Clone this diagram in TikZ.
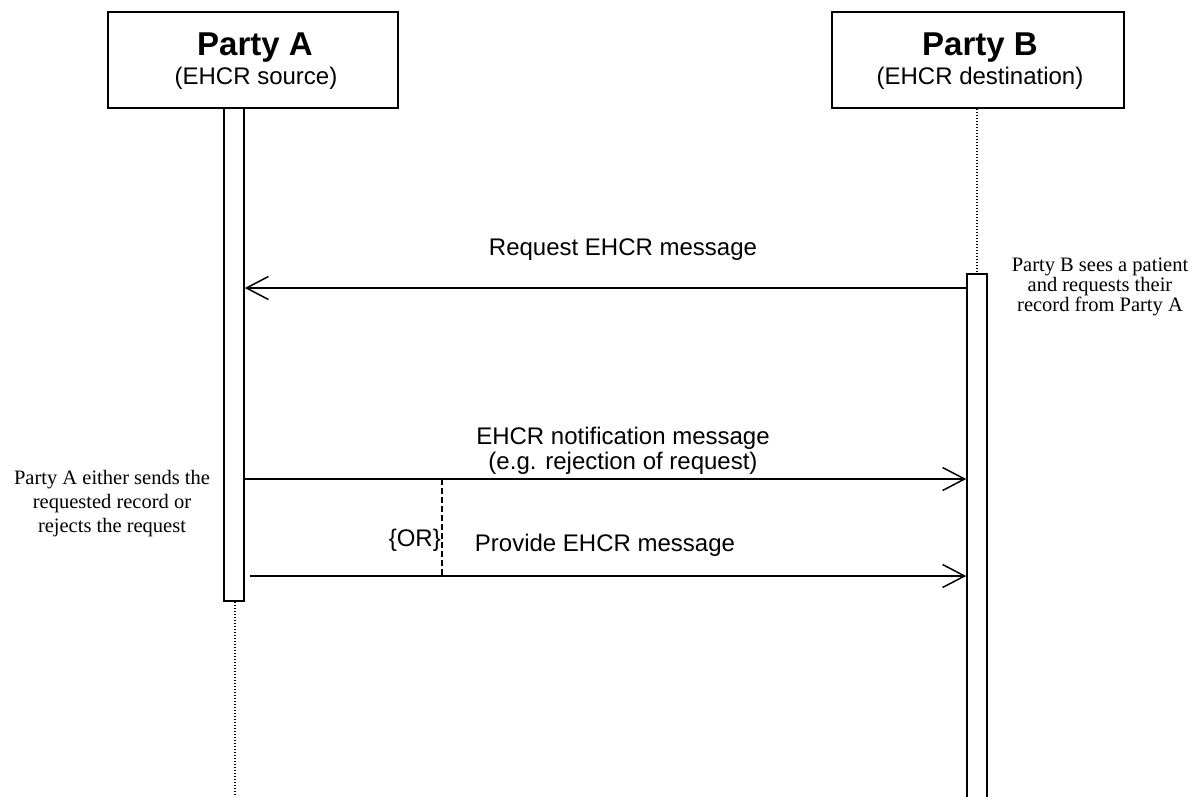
\documentclass[tikz,border=0pt]{standalone}
\usepackage{fontspec}
\setmainfont{Liberation Sans}
\newfontfamily\notefont{Liberation Serif}
\usetikzlibrary{arrows.meta}

\begin{document}
\begin{tikzpicture}[x=1pt,y=-1pt,
  party/.style={draw, line width=1.6pt, minimum height=96pt, inner sep=0pt},
  ptitle/.style={anchor=base, inner sep=0pt, font=\fontsize{33}{36}\selectfont\bfseries},
  psub/.style={anchor=base, inner sep=0pt, font=\fontsize{24}{26}\selectfont},
  actbar/.style={draw, line width=1.6pt, fill=white, minimum width=20pt, inner sep=0pt},
  life/.style={line width=1.2pt, dash pattern=on 1.5pt off 1.5pt},
  msg/.style={line width=1.5pt, -{Straight Barb[length=22pt, width=23pt]}},
  lbl/.style={inner sep=0pt, align=center, font=\fontsize{24}{25}\selectfont},
  note/.style={inner sep=0pt, align=center, font=\notefont\fontsize{20.5}{20}\selectfont},
  alt/.style={line width=1.1pt, dash pattern=on 6pt off 3pt}
]
\useasboundingbox (0,0) rectangle (1194,796);

% participants
\node[party, minimum width=290pt] (A) at (253,60) {};
\node[ptitle] (Atitle) at (255,55) {Party A};
\node[psub] (Asub) at (256,84) {(EHCR source)};

\node[party, minimum width=292pt] (B) at (978,60) {};
\node[ptitle] (Btitle) at (980,55) {Party B};
\node[psub] (Bsub) at (980,84) {(EHCR destination)};

% activation bars
\node[actbar, minimum height=493pt] (Abar) at (234,354.5) {};
\node[actbar, minimum height=530pt] (Bbar) at (977,539) {};

% lifelines
\coordinate (Aend) at (235,796);
\draw[life] (Abar.south -| Aend) -- (Aend);
\draw[life] (B.south -| Bbar.north) -- (Bbar.north);

% message rows
\coordinate (r1) at (0,288);
\coordinate (r2) at (0,479);
\coordinate (r3) at (0,576);
\coordinate (p3s) at (250,576);

\draw[msg] (Bbar.west |- r1) -- (Abar.east |- r1);
\draw[msg] (Abar.east |- r2) -- (Bbar.west |- r2);
\draw[msg] (p3s) -- (Bbar.west |- r3);

% alternative marker
\coordinate (or1) at (442,479);
\coordinate (or2) at (442,576);
\draw[alt] (or1) -- (or2);
\node[lbl, anchor=east] (ortxt) at (441,540) {\{OR\}};

% message labels
\node[lbl] (m1) at (623,250) {Request EHCR message};
\node[lbl] (m2) at (623,451) {EHCR notification message\\(e.g. rejection of request)};
\node[lbl] (m3) at (605,545) {Provide EHCR message};

% notes
\node[note] (nB) at (1100,287) {Party B sees a patient\\and requests their\\record from Party A};
\node[note, font=\notefont\fontsize{20.5}{24}\selectfont] (nA) at (112,504) {Party A either sends the\\requested record or\\rejects the request};
\end{tikzpicture}
\end{document}
